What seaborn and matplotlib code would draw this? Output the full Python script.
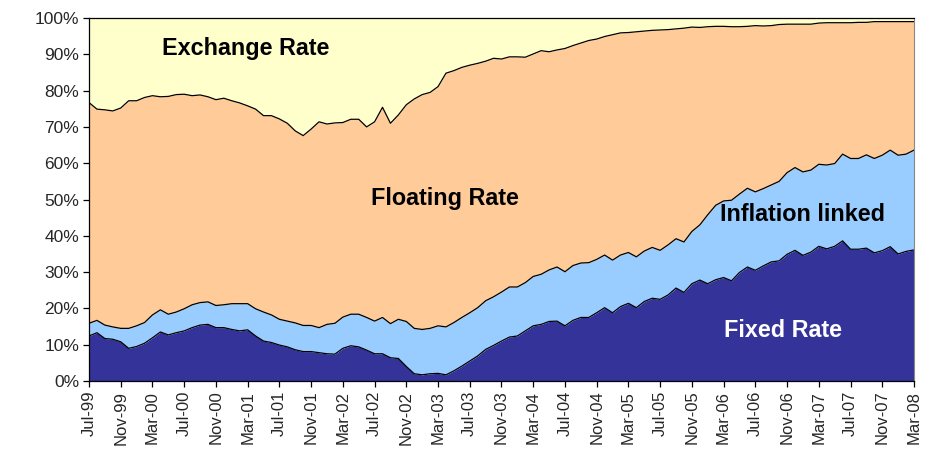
import numpy as np
import matplotlib
matplotlib.use("Agg")
import matplotlib.pyplot as plt
import seaborn as sns
import pandas as pd

# ---- data (share of debt, %), monthly Jul-99 .. Mar-08 ----
fixed_rate = [
    12.4, 13.3, 11.7, 11.5, 10.8, 9.0, 9.5, 10.4, 11.9, 13.5,
    12.7, 13.3, 13.8, 14.7, 15.4, 15.6, 14.7, 14.7, 14.2, 13.8,
    14.1, 12.4, 11.0, 10.6, 9.9, 9.4, 8.6, 8.1, 8.1, 7.8,
    7.5, 7.4, 9.0, 9.7, 9.4, 8.5, 7.5, 7.5, 6.4, 6.2,
    4.0, 2.0, 1.7, 2.0, 2.1, 1.7, 2.8, 4.1, 5.5, 6.9,
    8.7, 9.8, 11.0, 12.1, 12.4, 13.8, 15.2, 15.6, 16.4, 16.5,
    15.2, 16.7, 17.5, 17.5, 18.8, 20.2, 18.8, 20.5, 21.4, 20.2,
    21.9, 22.8, 22.5, 23.7, 25.6, 24.4, 26.8, 27.8, 26.8, 27.9,
    28.5, 27.6, 29.9, 31.4, 30.5, 31.7, 32.8, 33.1, 34.9, 36.0,
    34.6, 35.5, 37.1, 36.4, 37.1, 38.6, 36.3, 36.3, 36.6, 35.3,
    35.9, 37.0, 35.0, 35.7, 36.1,
]
inflation_linked = [
    3.5, 3.4, 3.7, 3.4, 3.7, 5.5, 5.7, 5.7, 6.3, 6.1,
    5.7, 5.7, 6.1, 6.3, 6.2, 6.2, 6.1, 6.3, 7.1, 7.5,
    7.2, 7.5, 8.0, 7.6, 7.1, 7.1, 7.4, 7.2, 7.2, 6.9,
    8.1, 8.5, 8.6, 8.7, 9.0, 9.0, 9.0, 10.0, 9.4, 10.8,
    12.4, 12.5, 12.5, 12.5, 13.1, 13.2, 13.3, 13.4, 13.3, 13.3,
    13.4, 13.4, 13.5, 13.8, 13.5, 13.3, 13.6, 13.8, 14.2, 14.9,
    14.9, 15.1, 15.0, 15.1, 14.7, 14.5, 14.5, 14.2, 14.0, 14.0,
    13.9, 14.0, 13.5, 13.8, 13.6, 13.9, 14.4, 15.2, 19.0, 20.5,
    21.1, 22.2, 21.6, 21.7, 21.6, 21.3, 21.2, 21.9, 22.5, 22.8,
    23.0, 22.6, 22.6, 23.1, 22.8, 23.9, 25.0, 25.0, 25.7, 26.0,
    26.3, 26.6, 27.2, 26.8, 27.5,
]
floating_rate = [
    60.8, 58.2, 59.3, 59.5, 60.7, 62.7, 62.0, 62.0, 60.4, 58.7,
    60.0, 59.9, 59.1, 57.6, 57.2, 56.5, 56.7, 56.9, 55.9, 55.3,
    54.5, 55.0, 54.1, 54.9, 55.2, 54.5, 52.9, 52.3, 54.1, 56.7,
    55.2, 55.2, 53.6, 53.7, 53.7, 52.5, 54.9, 57.9, 55.2, 56.3,
    59.7, 63.2, 64.7, 65.0, 65.9, 69.9, 69.4, 68.9, 68.2, 67.3,
    66.0, 65.7, 64.2, 63.4, 63.4, 62.1, 61.3, 61.6, 60.1, 59.8,
    61.5, 60.6, 60.6, 61.2, 60.7, 60.2, 62.1, 61.2, 60.6, 62.0,
    60.6, 59.8, 60.7, 59.3, 57.8, 58.9, 56.3, 54.4, 51.8, 49.3,
    48.1, 47.8, 46.1, 44.6, 45.8, 44.8, 43.9, 43.2, 40.9, 39.5,
    40.7, 40.2, 38.9, 39.2, 38.8, 36.2, 37.4, 37.5, 36.5, 37.7,
    36.8, 35.4, 36.8, 36.5, 35.4,
]
exchange_rate = [
    23.3, 25.1, 25.3, 25.6, 24.8, 22.8, 22.8, 21.9, 21.4, 21.7,
    21.6, 21.1, 21.0, 21.4, 21.2, 21.7, 22.5, 22.1, 22.8, 23.4,
    24.2, 25.1, 26.9, 26.9, 27.8, 29.0, 31.1, 32.4, 30.6, 28.6,
    29.2, 28.9, 28.8, 27.9, 27.9, 30.0, 28.6, 24.6, 29.0, 26.7,
    23.9, 22.3, 21.1, 20.5, 18.9, 15.2, 14.5, 13.6, 13.0, 12.5,
    11.9, 11.1, 11.3, 10.7, 10.7, 10.8, 9.9, 9.0, 9.3, 8.8,
    8.4, 7.6, 6.9, 6.2, 5.8, 5.1, 4.6, 4.1, 4.0, 3.8,
    3.6, 3.4, 3.3, 3.2, 3.0, 2.8, 2.5, 2.6, 2.4, 2.3,
    2.3, 2.4, 2.4, 2.3, 2.1, 2.2, 2.1, 1.8, 1.7, 1.7,
    1.7, 1.7, 1.4, 1.3, 1.3, 1.3, 1.3, 1.2, 1.2, 1.0,
    1.0, 1.0, 1.0, 1.0, 1.0,
]
tick_labels = [
    "Jul-99", "Nov-99", "Mar-00", "Jul-00", "Nov-00", "Mar-01", "Jul-01",
    "Nov-01", "Mar-02", "Jul-02", "Nov-02", "Mar-03", "Jul-03", "Nov-03",
    "Mar-04", "Jul-04", "Nov-04", "Mar-05", "Jul-05", "Nov-05", "Mar-06",
    "Jul-06", "Nov-06", "Mar-07", "Jul-07", "Nov-07", "Mar-08",
]
series_names = ["Fixed Rate", "Inflation linked", "Floating Rate", "Exchange Rate"]
series_colors = ["#333399", "#99CCFF", "#FFCC99", "#FFFFCC"]

# ---- plotting ----
sns.set_theme(style="white")
plt.rcParams['font.family'] = ['Liberation Sans', 'DejaVu Sans']

fig = plt.figure(figsize=(9.28, 4.53), dpi=100)
ax = fig.add_axes([89 / 928, 72 / 453, 825 / 928, 363 / 453])

x = np.arange(len(fixed_rate))
series = [fixed_rate, inflation_linked, floating_rate, exchange_rate]
ax.stackplot(x, *series, colors=series_colors, linewidth=0)

# boundary lines through seaborn
cum = np.cumsum(np.array(series), axis=0)
bounds = pd.DataFrame({"x": np.tile(x, 3),
                       "y": np.concatenate([cum[0], cum[1], cum[2]]),
                       "b": np.repeat(["b1", "b2", "b3"], len(x))})
sns.lineplot(data=bounds, x="x", y="y", units="b", estimator=None,
             color="black", linewidth=0.9, ax=ax, legend=False)

ax.set_xlim(0, len(x) - 1)
ax.set_ylim(0, 100)
ax.set_xlabel("")
ax.set_ylabel("")

ax.set_yticks(np.arange(0, 101, 10))
ax.set_yticklabels([f"{v}%" for v in range(0, 101, 10)], fontsize=12.5)
ax.set_xticks(np.arange(0, len(x), 4))
ax.set_xticklabels(tick_labels, rotation=90, fontsize=12)
ax.tick_params(axis="both", which="major", direction="out", length=4,
               width=0.9, color="black", left=True, bottom=True, pad=3)

for side in ["left", "bottom", "top"]:
    ax.spines[side].set_color("black")
    ax.spines[side].set_linewidth(0.9)
ax.spines["right"].set_color("#888888")
ax.spines["right"].set_linewidth(0.8)

lab = dict(fontsize=16.8, fontweight="bold", ha="center", va="center")
ax.text(19.8, 91.7, "Exchange Rate", color="black", **lab)
ax.text(44.9, 50.4, "Floating Rate", color="black", **lab)
ax.text(90.0, 46.0, "Inflation linked", color="black", **lab)
ax.text(87.5, 14.0, "Fixed Rate", color="white", **lab)

fig.savefig("out.png", dpi=100)
